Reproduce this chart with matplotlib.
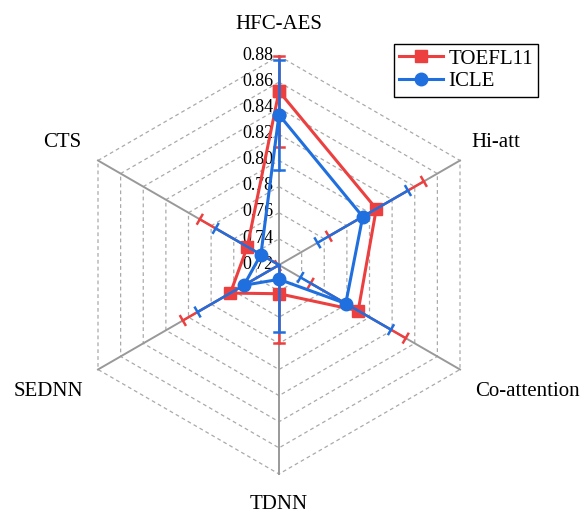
import numpy as np
import matplotlib
matplotlib.use("Agg")
import matplotlib.pyplot as plt

plt.rcParams['font.family'] = ['Liberation Serif', 'DejaVu Serif']

# values
categories = ['HFC-AES', 'Hi-att', 'Co-attention', 'TDNN', 'SEDNN', 'CTS']
toefl = [0.853, 0.806, 0.790, 0.742, 0.763, 0.748]
toefl_err = [0.043, 0.042, 0.042, 0.038, 0.042, 0.042]
icle = [0.835, 0.794, 0.779, 0.731, 0.751, 0.736]
icle_err = [0.042, 0.040, 0.040, 0.040, 0.041, 0.040]
ticks = [0.72, 0.74, 0.76, 0.78, 0.80, 0.82, 0.84, 0.86, 0.88]

rmin, rmax = ticks[0], ticks[-1]
red = '#EC4040'
blue = '#1F6FDE'

angles = np.deg2rad([90, 30, -30, -90, -150, 150])


def rad(v):
    return (np.asarray(v) - rmin) / (rmax - rmin)


W, H = 582, 515
cx, cy, R = 279, 250, 209  # centre (pixels from bottom-left) and radius

fig = plt.figure(figsize=(W / 100, H / 100), dpi=100)
ax = fig.add_axes([0, 0, 1, 1])
ax.set_xlim(-cx / R, (W - cx) / R)
ax.set_ylim(-cy / R, (H - cy) / R)
ax.set_aspect('equal')
ax.axis('off')

# hexagonal grid
ca = np.append(np.cos(angles), np.cos(angles[0]))
sa = np.append(np.sin(angles), np.sin(angles[0]))
for k in range(1, len(ticks)):
    r = k / (len(ticks) - 1)
    ax.plot(r * ca, r * sa, color='#aaaaaa', lw=0.9, ls=(0, (3, 2.5)), zorder=1)
for a in angles:
    ax.plot([0, np.cos(a)], [0, np.sin(a)], color='#999999', lw=1.4, zorder=1.5)

# radial tick labels
for t in ticks:
    ax.text(-0.025, rad(t) + 0.004, f'{t:.2f}', ha='right', va='center', fontsize=13, zorder=2)

# category labels
offsets = [(0, 0.15, 'center'), (0.055, 0.088, 'left'), (0.07, -0.105, 'left'),
           (0, -0.145, 'center'), (-0.07, -0.105, 'right'), (-0.08, 0.088, 'right')]
for name, a, (dx, dy, ha) in zip(categories, angles, offsets):
    ax.text(np.cos(a) + dx, np.sin(a) + dy, name, ha=ha, va='center', fontsize=15)


def draw_series(vals, errs, color, marker, ms, label, z):
    r = rad(vals)
    x = r * np.cos(angles)
    y = r * np.sin(angles)
    cap = 0.024
    for a, v, e in zip(angles, vals, errs):
        lo = max(rad(v - e), 0.0)
        hi = min(rad(v + e), 1.0)
        ux, uy = np.cos(a), np.sin(a)
        px, py = -uy, ux
        ax.plot([lo * ux, hi * ux], [lo * uy, hi * uy], color=color, lw=1.8, zorder=z)
        ends = [hi] if lo == 0 else [lo, hi]
        for rr in ends:
            ax.plot([rr * ux - cap * px, rr * ux + cap * px],
                    [rr * uy - cap * py, rr * uy + cap * py], color=color, lw=1.8, zorder=z)
    ax.plot(np.append(x, x[0]), np.append(y, y[0]), color=color, lw=2.2,
            marker=marker, ms=ms, label=label, zorder=z + 0.5)


draw_series(toefl, toefl_err, red, 's', 8.5, 'TOEFL11', 3)
draw_series(icle, icle_err, blue, 'o', 9, 'ICLE', 5)

leg = ax.legend(loc='upper right', bbox_to_anchor=(538 / W, 1 - 44 / H), borderaxespad=0,
                fontsize=15, fancybox=False, framealpha=1, edgecolor='black',
                handlelength=2.1, handletextpad=0.25, borderpad=0.25, labelspacing=0.15)
leg.get_frame().set_linewidth(1.0)

fig.savefig('out.png', dpi=100)
